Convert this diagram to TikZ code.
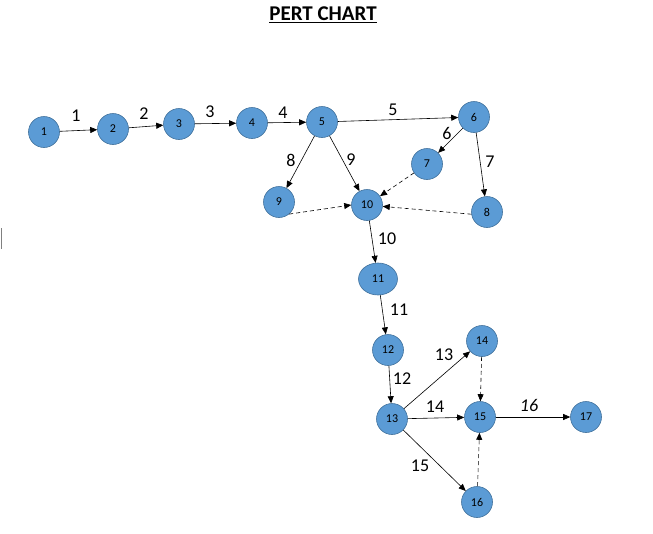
\documentclass[tikz,border=0pt]{standalone}
\usepackage{fontspec}
\setmainfont{Carlito}
\usetikzlibrary{arrows.meta,shapes.geometric}
\definecolor{nodefill}{HTML}{5B9BD5}
\definecolor{nodeline}{HTML}{41719C}
\begin{document}
\begin{tikzpicture}[x=1pt,y=-1pt,
  ev/.style={circle,fill=nodefill,draw=nodeline,line width=0.6pt,minimum size=31pt,inner sep=0pt,font=\fontsize{12}{12}\selectfont},
  act/.style={-{Triangle[length=7pt,width=6pt]},line width=0.6pt,black},
  dum/.style={act,dashed,dash pattern=on 4pt off 3pt},
  lab/.style={font=\fontsize{18}{18}\selectfont,inner sep=0pt}]
\useasboundingbox (0,0) rectangle (653,533);
\node[font=\fontsize{21}{21}\selectfont\bfseries,inner sep=0pt] (title) at (323,15) {\underline{PERT CHART}};
\node[ev] (n1) at (44,132) {1};
\node[ev] (n2) at (113,129) {2};
\node[ev] (n3) at (179,124) {3};
\node[ev] (n4) at (252,123) {4};
\node[ev] (n5) at (322,122) {5};
\node[ev] (n6) at (474,117) {6};
\node[ev] (n7) at (427,164) {7};
\node[ev] (n8) at (487,212) {8};
\node[ev] (n9) at (279,202) {9};
\node[ev] (n10) at (367,205) {10};
\node[ev,ellipse,minimum width=39pt,minimum height=32pt] (n11) at (378,279) {11};
\node[ev] (n12) at (388,350) {12};
\node[ev] (n13) at (392,419) {13};
\node[ev] (n14) at (482,341) {14};
\node[ev] (n15) at (480,417) {15};
\node[ev] (n16) at (477,502) {16};
\node[ev] (n17) at (586,417) {17};
\draw[act] (n1) -- (n2);
\draw[act] (n2) -- (n3);
\draw[act] (n3) -- (n4);
\draw[act] (n4) -- (n5);
\draw[act] (n5) -- (n6);
\draw[act] (n6) -- (n7);
\draw[act] (n6) -- (n8);
\draw[act] (n5) -- (n9);
\draw[act] (n5) -- (n10);
\draw[dum] (n9.-50) -- (n10.west);
\draw[dum] (n7) -- (n10);
\draw[dum] (n8.188) -- (n10);
\draw[act] (n10) -- (n11);
\draw[act] (n11) -- (n12);
\draw[act] (n12) -- (n13);
\draw[act] (n13) -- (n14);
\draw[act] (n13) -- (n15);
\draw[act] (n13) -- (n16);
\draw[dum] (n14) -- (n15);
\draw[dum] (n16) -- (n15);
\draw[act] (n15) -- (n17);
\node[lab] (l1) at (76,116) {1};
\node[lab] (l2) at (144,114) {2};
\node[lab] (l3) at (210,112) {3};
\node[lab] (l4) at (283,113) {4};
\node[lab] (l5) at (393,110) {5};
\node[lab] (l6) at (447,133) {6};
\node[lab] (l7) at (490,162) {7};
\node[lab] (l8) at (291,160) {8};
\node[lab] (l9) at (351,160) {9};
\node[lab] (l10) at (387,239) {10};
\node[lab] (l11) at (399,310) {11};
\node[lab] (l12) at (402,379) {12};
\node[lab] (l13) at (444,355) {13};
\node[lab] (l14) at (435,407) {14};
\node[lab] (l15) at (420,466) {15};
\node[lab,font=\fontsize{18}{18}\selectfont\itshape] (l16) at (529,405) {16};
\draw[gray,line width=0.8pt] (1.5,228) -- (1.5,249);
\end{tikzpicture}
\end{document}
